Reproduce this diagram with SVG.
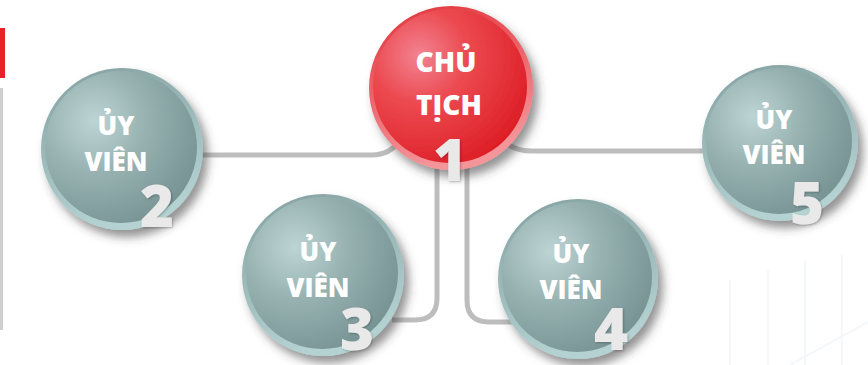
<svg xmlns="http://www.w3.org/2000/svg" width="868" height="365" viewBox="0 0 868 365">
  <defs>
    <radialGradient id="gFace" cx="0.32" cy="0.33" r="0.75">
      <stop offset="0" stop-color="#bdd4d4"/>
      <stop offset="0.45" stop-color="#98b2b2"/>
      <stop offset="1" stop-color="#779393"/>
    </radialGradient>
    <linearGradient id="gRim" x1="0" y1="0" x2="0.3" y2="1">
      <stop offset="0" stop-color="#84a0a0"/>
      <stop offset="1" stop-color="#b4d2d2"/>
    </linearGradient>
    <radialGradient id="rFace" cx="0.3" cy="0.3" r="0.78">
      <stop offset="0" stop-color="#f28392"/>
      <stop offset="0.4" stop-color="#ec4a50"/>
      <stop offset="1" stop-color="#dd1e26"/>
    </radialGradient>
    <linearGradient id="rRim" x1="0" y1="0" x2="0.3" y2="1">
      <stop offset="0" stop-color="#e0343a"/>
      <stop offset="1" stop-color="#f4959a"/>
    </linearGradient>
    <filter id="shadow" x="-30%" y="-30%" width="170%" height="170%">
      <feDropShadow dx="5" dy="7" stdDeviation="5" flood-color="#3a3a3a" flood-opacity="0.55"/>
    </filter>
    <filter id="digitShadow" x="-20%" y="-20%" width="150%" height="150%">
      <feDropShadow dx="1" dy="1" stdDeviation="1" flood-color="#000" flood-opacity="0.25"/>
    </filter>
  </defs>
  <style>
    .label { font-family: "Open Sans", "Noto Sans", "DejaVu Sans", sans-serif; font-weight: 800; fill: #ffffff; text-anchor: middle; }
    .member { font-size: 26px; }
    .chair { font-size: 28px; }
    .digit { font-family: "Open Sans", "Noto Sans", "DejaVu Sans", sans-serif; font-weight: 800; font-size: 58px; fill: #e9e9e9; text-anchor: middle; filter: url(#digitShadow); }
    .link { fill: none; stroke: #bdbdbd; stroke-width: 5; stroke-linecap: butt; }
  </style>

  <rect x="0" y="0" width="868" height="365" fill="#ffffff"/>

  <!-- faint background panes, lower right -->
  <g stroke="#f4f8fb" stroke-width="2" fill="none">
    <line x1="730" y1="280" x2="730" y2="365"/>
    <line x1="768" y1="270" x2="768" y2="365"/>
    <line x1="805" y1="260" x2="805" y2="365"/>
    <line x1="842" y1="255" x2="842" y2="365"/>
    <line x1="790" y1="365" x2="868" y2="322"/>
  </g>

  <!-- left edge marks -->
  <rect x="0" y="28" width="5" height="50" fill="#e8202a"/>
  <rect x="0" y="88" width="3" height="242" fill="#cfcfcf"/>

  <!-- connectors -->
  <g id="connectors">
    <path class="link" d="M 200 155 H 372 Q 390 155 400 140"/>
    <path class="link" d="M 503 140 Q 513 151 532 151 H 708"/>
    <path class="link" d="M 437 160 V 298 Q 437 320 415 320 H 392"/>
    <path class="link" d="M 467 160 V 300 Q 467 322 489 322 H 512"/>
  </g>

  <!-- member 2 -->
  <g id="member2">
    <g filter="url(#shadow)">
      <circle cx="122" cy="149" r="81" fill="url(#gRim)"/>
      <circle cx="121" cy="147" r="76" fill="url(#gFace)"/>
    </g>
    <text class="label member" x="116" y="135">ỦY</text>
    <text class="label member" x="116" y="171">VIÊN</text>
    <text class="digit" x="157" y="227">2</text>
  </g>

  <!-- member 3 -->
  <g id="member3">
    <g filter="url(#shadow)">
      <circle cx="323" cy="275" r="81" fill="url(#gRim)"/>
      <circle cx="322" cy="273" r="76" fill="url(#gFace)"/>
    </g>
    <text class="label member" x="318" y="261">ỦY</text>
    <text class="label member" x="318" y="297">VIÊN</text>
    <text class="digit" x="357" y="350">3</text>
  </g>

  <!-- member 4 -->
  <g id="member4">
    <g filter="url(#shadow)">
      <circle cx="578" cy="279" r="80" fill="url(#gRim)"/>
      <circle cx="577" cy="277" r="75" fill="url(#gFace)"/>
    </g>
    <text class="label member" x="571" y="263">ỦY</text>
    <text class="label member" x="571" y="299">VIÊN</text>
    <text class="digit" x="611" y="350">4</text>
  </g>

  <!-- member 5 -->
  <g id="member5">
    <g filter="url(#shadow)">
      <circle cx="780" cy="143" r="78" fill="url(#gRim)"/>
      <circle cx="779" cy="141" r="73" fill="url(#gFace)"/>
    </g>
    <text class="label member" x="774" y="129">ỦY</text>
    <text class="label member" x="774" y="164">VIÊN</text>
    <text class="digit" x="807" y="224">5</text>
  </g>

  <!-- chairman 1 -->
  <g id="chairman1">
    <g filter="url(#shadow)">
      <circle cx="451" cy="88" r="82" fill="url(#rRim)"/>
      <circle cx="450" cy="86" r="77" fill="url(#rFace)"/>
    </g>
    <text class="label chair" x="446" y="72">CHỦ</text>
    <text class="label chair" x="449" y="115">TỊCH</text>
    <text class="digit" x="450" y="181">1</text>
  </g>
</svg>
